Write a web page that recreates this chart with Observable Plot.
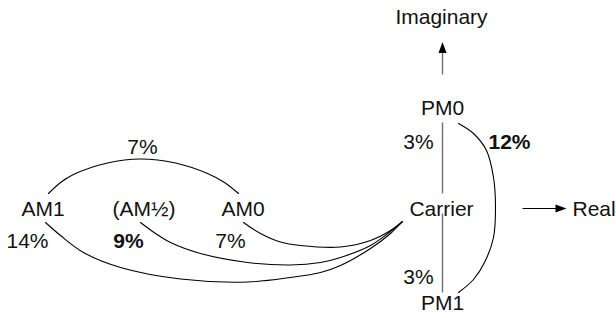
<!DOCTYPE html>
<html>
<head>
<meta charset="utf-8">
<script src="https://cdn.jsdelivr.net/npm/d3@7"></script>
<script src="https://cdn.jsdelivr.net/npm/@observablehq/plot@0.6"></script>
<style>
  html, body { margin: 0; padding: 0; background: #fff; }
  #chart svg { display: block; }
</style>
</head>
<body>
<div id="chart"></div>
<script>
// Node labels and their positions (diagram units = reference pixels)
const nodeLabels = ["Imaginary", "PM0", "Carrier", "PM1", "AM1", "(AM½)", "AM0"];
const nodeX      = [441, 442, 441, 442, 42.5, 143.5, 242.5];
const nodeY      = [17, 108, 209, 303, 209, 209, 209];

// Axis label to the right
const realLabel = ["Real"];
const realX = [572];
const realY = [209];

// Percentage labels
const pctLabels = ["3%", "3%", "7%", "14%", "7%"];
const pctX      = [418, 418, 142, 27, 230];
const pctY      = [141.5, 276.5, 147, 241, 241];
const boldLabels = ["12%", "9%"];
const boldX      = [509, 128];
const boldY      = [141.5, 241];

// Straight connectors: PM0–Carrier, Carrier–PM1 (grey)
const greyLinks = [
  {x1: 442, y1: 122, x2: 442, y2: 193},
  {x1: 442, y1: 213, x2: 442, y2: 292},
  {x1: 442, y1: 74,  x2: 442, y2: 50}
];
// Real axis arrow shaft (black)
const blackLinks = [
  {x1: 522, y1: 208, x2: 557, y2: 208}
];
// Arrow tips
const tipsUp = [{x: 442, y: 41.5}];
const tipsRight = [{x: 566, y: 208}];

// Curved connectors, waypoints
const arcAM1AM0 = [[48,193],[60,182],[73,174],[107,162.5],[140,158.5],[175,162.5],[207,173],[224,182],[238,193]];
const arcPM = [[458,123],[473,133],[486,150],[493,177],[495,207],[493,237],[484,262],[473,279],[458,292]];
const arcAM0C = [[243,222],[260,233],[280,241.5],[300,245],[340,246.5],[370,240],[390,230],[402,221]];
const arcAMhC = [[140,222],[155,233],[170,242],[200,253],[247,262],[290,264.5],[320,262],[340,257],[370,245],[390,231],[402,221]];
const arcAM1C = [[45,222],[60,235],[83,252],[120,267],[180,278.5],[247,281.5],[290,277],[320,272],[340,265],[370,248],[390,233],[402,221]];

const curves = [arcAM1AM0, arcPM, arcAM0C, arcAMhC, arcAM1C];
const curvePts = curves.flatMap((c, i) => c.map(([x, y]) => ({x, y, id: i})));

const toRows = (labels, xs, ys) => labels.map((t, i) => ({t, x: xs[i], y: ys[i]}));

// Filled arrowhead symbol: tip at origin, pointing up
const arrowHead = {
  draw(ctx) {
    ctx.moveTo(0, 0);
    ctx.lineTo(4, 11);
    ctx.lineTo(-4, 11);
    ctx.closePath();
  }
};

const font = "'Liberation Sans', Arial, Helvetica, sans-serif";

const chart = Plot.plot({
  width: 616,
  height: 318,
  margin: 0,
  x: {domain: [0, 616], axis: null},
  y: {domain: [318, 0], axis: null},
  style: {fontFamily: font, background: "#fff"},
  marks: [
    Plot.link(greyLinks, {x1: "x1", y1: "y1", x2: "x2", y2: "y2", stroke: "#6e6e6e", strokeWidth: 1.4}),
    Plot.link(blackLinks, {x1: "x1", y1: "y1", x2: "x2", y2: "y2", stroke: "#000", strokeWidth: 1.2}),
    Plot.line(curvePts, {x: "x", y: "y", z: "id", curve: "catmull-rom", stroke: "#000", strokeWidth: 1.1}),
    Plot.dot(tipsUp, {x: "x", y: "y", symbol: arrowHead, fill: "#000", stroke: "none", rotate: 0}),
    Plot.dot(tipsRight, {x: "x", y: "y", symbol: arrowHead, fill: "#000", stroke: "none", rotate: 90}),
    Plot.text(toRows(nodeLabels, nodeX, nodeY), {x: "x", y: "y", text: "t", fontSize: 21, fill: "#111", textAnchor: "middle", lineAnchor: "middle"}),
    Plot.text(toRows(realLabel, realX, realY), {x: "x", y: "y", text: "t", fontSize: 21, fill: "#111", textAnchor: "start", lineAnchor: "middle"}),
    Plot.text(toRows(pctLabels, pctX, pctY), {x: "x", y: "y", text: "t", fontSize: 21, fill: "#111", textAnchor: "middle", lineAnchor: "middle"}),
    Plot.text(toRows(boldLabels, boldX, boldY), {x: "x", y: "y", text: "t", fontSize: 21, fontWeight: "bold", fill: "#111", textAnchor: "middle", lineAnchor: "middle"})
  ]
});
document.getElementById("chart").appendChild(chart);
</script>
</body>
</html>
